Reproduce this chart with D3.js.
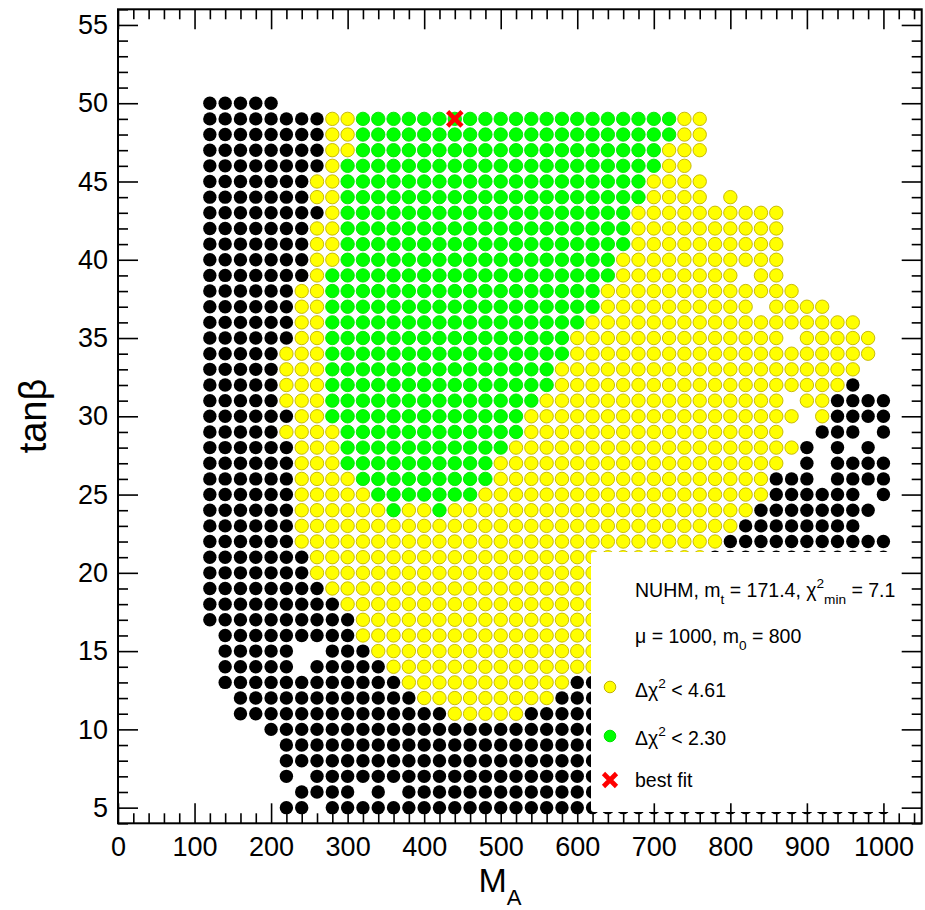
<!DOCTYPE html>
<html>
<head>
<meta charset="utf-8">
<script src="https://cdn.jsdelivr.net/npm/d3@7"></script>
<style>
  body { margin: 0; background: #fff; }
  svg { display: block; font-family: "Liberation Sans", Arial, sans-serif; }
</style>
</head>
<body>
<svg id="chart" width="925" height="910"></svg>
<script>
//
// Scan data: NUHM, M_A vs tan(beta)
//
// Each run is [tanBeta, first M_A, last M_A] on the scan grid below.
//

const maColumns = [
  120, 140, 160, 180, 200, 220, 240, 260, 280, 300, 320, 340, 360, 380, 400,
  420, 440, 460, 480, 500, 520, 540, 560, 580, 600, 620, 640, 660, 680, 700,
  720, 740, 760, 780, 800, 820, 840, 860, 880, 900, 920, 940, 960, 980, 1000,
];

const xTickLabels = [0, 100, 200, 300, 400, 500, 600, 700, 800, 900, 1000];
const yTickLabels = [5, 10, 15, 20, 25, 30, 35, 40, 45, 50, 55];

// points outside both regions
const blackRuns = [
  [50, 120, 200],
  [49, 120, 260], [48, 120, 260], [47, 120, 260], [46, 120, 260],
  [45, 120, 240], [44, 120, 240], [43, 120, 260], [42, 120, 240],
  [41, 120, 240], [40, 120, 240], [39, 120, 240],
  [38, 120, 220], [37, 120, 220], [36, 120, 220], [35, 120, 220],
  [34, 120, 200], [33, 120, 200], [32, 120, 200], [32, 960, 960],
  [31, 120, 200], [31, 940, 1000],
  [30, 120, 220], [30, 940, 1000],
  [29, 120, 200], [29, 920, 960], [29, 1000, 1000],
  [28, 120, 220], [28, 900, 900], [28, 940, 940], [28, 980, 980],
  [27, 120, 220], [27, 900, 900], [27, 940, 1000],
  [26, 120, 220], [26, 860, 900], [26, 940, 1000],
  [25, 120, 220], [25, 860, 960], [25, 1000, 1000],
  [24, 120, 220], [24, 840, 980],
  [23, 120, 220], [23, 820, 960],
  [22, 120, 220], [22, 800, 1000],
  [21, 120, 240], [21, 780, 1000],
  [20, 120, 240], [19, 120, 260], [18, 120, 280], [17, 120, 300],
  [16, 140, 300],
  [15, 140, 220], [15, 280, 320],
  [14, 140, 220], [14, 260, 340],
  [13, 140, 360], [13, 600, 620],
  [12, 160, 380], [12, 580, 620],
  [11, 160, 420], [11, 540, 620],
  [10, 200, 620], [9, 220, 620], [8, 220, 620],
  [7, 220, 220], [7, 260, 620],
  [6, 240, 300], [6, 340, 340], [6, 380, 620],
  [5, 220, 240], [5, 280, 1000],
];

// delta chi^2 < 4.61
const yellowRuns = [
  [49, 280, 300], [49, 740, 760],
  [48, 280, 300], [48, 740, 760],
  [47, 280, 300], [47, 720, 760],
  [46, 280, 280], [46, 720, 740],
  [45, 260, 280], [45, 700, 760],
  [44, 260, 280], [44, 700, 760], [44, 800, 800],
  [43, 280, 280], [43, 680, 860],
  [42, 260, 280], [42, 680, 860],
  [41, 260, 280], [41, 680, 860],
  [40, 260, 280], [40, 660, 860],
  [39, 260, 260], [39, 660, 800], [39, 840, 860],
  [38, 240, 260], [38, 640, 880],
  [37, 240, 260], [37, 640, 820], [37, 860, 920],
  [36, 240, 260], [36, 620, 960],
  [35, 240, 260], [35, 600, 860], [35, 900, 980],
  [34, 220, 260], [34, 600, 980],
  [33, 220, 260], [33, 580, 960],
  [32, 220, 260], [32, 580, 940],
  [31, 220, 260], [31, 560, 860], [31, 900, 920],
  [30, 240, 260], [30, 540, 880], [30, 920, 920],
  [29, 220, 280], [29, 540, 860],
  [28, 240, 280], [28, 520, 880],
  [27, 240, 280], [27, 500, 860],
  [26, 240, 300], [26, 500, 840],
  [25, 240, 320], [25, 480, 840],
  [24, 240, 340], [24, 380, 400], [24, 440, 820],
  [23, 240, 800], [22, 240, 780], [21, 260, 760],
  [20, 260, 620], [19, 280, 620], [18, 300, 620], [17, 320, 620],
  [16, 320, 620], [15, 340, 620], [14, 360, 620],
  [13, 380, 580], [12, 400, 560], [11, 440, 520],
];

// delta chi^2 < 2.30
const greenRuns = [
  [49, 320, 720], [48, 320, 720], [47, 320, 700], [46, 300, 700],
  [45, 300, 680], [44, 300, 680], [43, 300, 660], [42, 300, 660],
  [41, 300, 660], [40, 300, 640], [39, 280, 640], [38, 280, 620],
  [37, 280, 620], [36, 280, 600], [35, 280, 580], [34, 280, 580],
  [33, 280, 560], [32, 280, 560], [31, 280, 540], [30, 280, 520],
  [29, 300, 520], [28, 300, 500], [27, 300, 480], [26, 320, 480],
  [25, 340, 460], [24, 360, 360], [24, 420, 420],
];

const bestFit = { ma: 440, tb: 49 };

//
// Chart
//

const svg = d3.select("#chart");
const x = d3.scaleLinear().domain([0, 1050]).range([118, 921.7]);
const y = d3.scaleLinear().domain([4, 56]).range([823.3, 9.3]);

const styles = {
  black: { fill: "#000000", stroke: "none" },
  yellow: { fill: "#ffff00", stroke: "#c2b200" },
  green: { fill: "#00ff00", stroke: "#00e000" },
};

function expand(runs, cls) {
  return runs.flatMap(([tb, from, to]) =>
    maColumns.filter((m) => m >= from && m <= to).map((m) => ({ ma: m, tb: tb, cls: cls }))
  );
}

const points = [
  ...expand(blackRuns, "black"),
  ...expand(yellowRuns, "yellow"),
  ...expand(greenRuns, "green"),
];

svg.append("g")
  .selectAll("circle")
  .data(points)
  .enter()
  .append("circle")
  .attr("cx", (d) => x(d.ma))
  .attr("cy", (d) => y(d.tb))
  .attr("r", 6.7)
  .attr("fill", (d) => styles[d.cls].fill)
  .attr("stroke", (d) => styles[d.cls].stroke)
  .attr("stroke-width", 0.9);

function cross(g, cx, cy, h) {
  g.append("path")
    .attr("d", `M${cx - h},${cy - h}L${cx + h},${cy + h}M${cx - h},${cy + h}L${cx + h},${cy - h}`)
    .attr("stroke", "#ff0000")
    .attr("stroke-width", 4.6)
    .attr("fill", "none");
}

cross(svg, x(bestFit.ma), y(bestFit.tb), 7.2);

//
// Legend
//

// text parts: sup/sub are shifted from the baseline
function richText(g, tx, ty, parts, size, small) {
  const t = g.append("text").attr("x", tx).attr("y", ty).attr("font-size", size);
  let shift = 0;
  parts.forEach((p) => {
    const target = p.sup ? -0.47 * size : p.sub ? 0.37 * size : 0;
    t.append("tspan")
      .attr("dy", target - shift)
      .attr("font-size", p.sup || p.sub ? size * (small || 0.7) : size)
      .text(p.t);
    shift = target;
  });
  return t;
}

const legend = svg.append("g");
legend.append("rect")
  .attr("x", 591).attr("y", 552)
  .attr("width", 921.7 - 591).attr("height", 260)
  .attr("rx", 3)
  .attr("fill", "#ffffff");

richText(legend, 635, 597, [
  { t: "NUHM, m" }, { t: "t", sub: true }, { t: " = 171.4, χ" },
  { t: "2", sup: true }, { t: "min", sub: true }, { t: " = 7.1" },
], 19.5);
richText(legend, 635, 643, [
  { t: "μ = 1000, m" }, { t: "0", sub: true }, { t: " = 800" },
], 19.5);
richText(legend, 635, 697, [{ t: "Δχ" }, { t: "2", sup: true }, { t: " < 4.61" }], 19.5);
richText(legend, 635, 745, [{ t: "Δχ" }, { t: "2", sup: true }, { t: " < 2.30" }], 19.5);
richText(legend, 635, 787, [{ t: "best fit" }], 19.5);

legend.append("circle").attr("cx", 610).attr("cy", 687).attr("r", 5.8)
  .attr("fill", styles.yellow.fill).attr("stroke", styles.yellow.stroke);
legend.append("circle").attr("cx", 610).attr("cy", 736).attr("r", 5.8)
  .attr("fill", styles.green.fill).attr("stroke", styles.green.stroke);
cross(legend, 610, 780, 6.5);

//
// Axes (ticks on all four sides, pointing in)
//

const xMinor = d3.range(0, 1050, 20).filter((v) => v % 100 !== 0);
const yMinor = d3.range(4, 57, 1).filter((v) => v % 5 !== 0);

function ticks(axis, transform, values, size, labels) {
  const g = svg.append("g")
    .attr("transform", transform)
    .call(axis.tickValues(values).tickSize(size).tickSizeOuter(0)
      .tickPadding(labels ? 11 : 0)
      .tickFormat(labels ? d3.format("d") : ""));
  g.select(".domain").remove();
  g.attr("font-family", null).attr("font-size", 27);
  g.selectAll("line").attr("stroke-width", 1.6);
  return g;
}

ticks(d3.axisBottom(x), "translate(0,823.3)", xTickLabels, -20, true)
  .selectAll("text").attr("dy", "0.71em").attr("y", 13.5);
ticks(d3.axisBottom(x), "translate(0,823.3)", xMinor, -10, false);
ticks(d3.axisTop(x), "translate(0,9.3)", xTickLabels, -20, false);
ticks(d3.axisTop(x), "translate(0,9.3)", xMinor, -10, false);
ticks(d3.axisLeft(y), "translate(118,0)", yTickLabels, -20, true)
  .selectAll("text").attr("x", -10);
ticks(d3.axisLeft(y), "translate(118,0)", yMinor, -10, false);
ticks(d3.axisRight(y), "translate(921.7,0)", yTickLabels, -20, false);
ticks(d3.axisRight(y), "translate(921.7,0)", yMinor, -10, false);

svg.append("rect")
  .attr("x", 118).attr("y", 9.3)
  .attr("width", 921.7 - 118).attr("height", 823.3 - 9.3)
  .attr("fill", "none")
  .attr("stroke", "#000")
  .attr("stroke-width", 2);

// axis titles
richText(svg, 500, 892, [{ t: "M" }, { t: "A", sub: true }], 34, 0.65)
  .attr("text-anchor", "middle");

svg.append("text")
  .attr("transform", "translate(46,416) rotate(-90)")
  .attr("text-anchor", "middle")
  .attr("font-size", 38)
  .text("tanβ");
</script>
</body>
</html>
